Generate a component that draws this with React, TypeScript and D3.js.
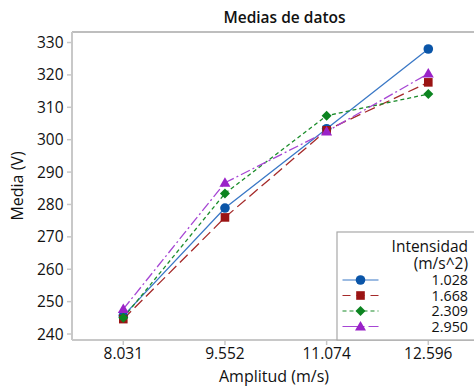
import React from "react";
import * as d3 from "d3";

const categories = ["8.031", "9.552", "11.074", "12.596"];
const seriesNames = ["1.028", "1.668", "2.309", "2.950"];
const s1028 = [245.6, 278.9, 303.4, 328.0];
const s1668 = [244.6, 276.0, 302.9, 317.7];
const s2309 = [245.0, 283.4, 307.4, 314.1];
const s2950 = [247.7, 286.7, 302.5, 320.4];
const yTicks = [240, 250, 260, 270, 280, 290, 300, 310, 320, 330];

const W = 474, H = 386;
const left = 72, right = 474, top = 32, bottom = 340;

const styles = [
  { line: "#3a78c6", fill: "#0a55a8", dash: "", shape: "circle" },
  { line: "#a52a2a", fill: "#9b1414", dash: "11,5", shape: "square" },
  { line: "#1a8c2a", fill: "#0c8420", dash: "4,3", shape: "diamond" },
  { line: "#a646d4", fill: "#9a22c8", dash: "10,3,2,3", shape: "triangle" },
];

function Marker({ x, y, shape, fill }: { x: number; y: number; shape: string; fill: string }) {
  if (shape === "circle") return <circle cx={x} cy={y} r={4.8} fill={fill} />;
  if (shape === "square") return <rect x={x - 4.3} y={y - 4.3} width={8.6} height={8.6} fill={fill} />;
  if (shape === "diamond")
    return <path d={`M${x},${y - 5}L${x + 5},${y}L${x},${y + 5}L${x - 5},${y}Z`} fill={fill} />;
  return <path d={`M${x},${y - 5.5}L${x + 5.5},${y + 4}L${x - 5.5},${y + 4}Z`} fill={fill} />;
}

export default function App() {
  const data = [s1028, s1668, s2309, s2950];
  const x = d3.scalePoint<string>().domain(categories).range([123.3, 428.3]);
  const y = d3.scaleLinear().domain([238.15, 333.25]).range([bottom, top]);
  const line = d3
    .line<number>()
    .x((_, i) => x(categories[i]) as number)
    .y((d) => y(d));
  const font = "'Open Sans', 'Noto Sans', sans-serif";
  const legendRows = [280, 295.5, 311, 326.5];
  return (
    <svg width={W} height={H} style={{ position: "absolute", left: 0, top: 0 }} fontFamily={font}>
      <rect width={W} height={H} fill="#fff" />
      <text x={284.5} y={17.5} dy="0.36em" textAnchor="middle" fontSize={15.5} fontWeight={600} fill="#111">
        Medias de datos
      </text>
      <line x1={left} x2={right} y1={top} y2={top} stroke="#a8a8a8" strokeWidth={1.5} />
      <line x1={left} x2={left} y1={top} y2={bottom} stroke="#c8c8c8" strokeWidth={2} />
      <line x1={left} x2={right} y1={bottom} y2={bottom} stroke="#c8c8c8" strokeWidth={2} />
      {yTicks.map((t) => (
        <g key={t}>
          <line x1={left - 5} x2={left} y1={y(t)} y2={y(t)} stroke="#c8c8c8" strokeWidth={1.5} />
          <text x={left - 8.5} y={y(t)} dy="0.36em" textAnchor="end" fontSize={15.5} fill="#111">
            {t}
          </text>
        </g>
      ))}
      {categories.map((c) => (
        <g key={c}>
          <line x1={x(c)} x2={x(c)} y1={bottom} y2={bottom + 5} stroke="#c8c8c8" strokeWidth={1.5} />
          <text x={x(c)} y={353} dy="0.36em" textAnchor="middle" fontSize={15.5} fill="#111">
            {c}
          </text>
        </g>
      ))}
      <text x={274} y={376} dy="0.36em" textAnchor="middle" fontSize={16} fill="#111">
        Amplitud (m/s)
      </text>
      <text
        transform={`translate(17.5,186) rotate(-90)`}
        dy="0.36em"
        textAnchor="middle"
        fontSize={16}
        fill="#111"
      >
        Media (V)
      </text>
      {data.map((s, i) => (
        <path
          key={i}
          d={line(s) || ""}
          fill="none"
          stroke={styles[i].line}
          strokeWidth={1.3}
          strokeDasharray={styles[i].dash}
        />
      ))}
      {data.map((s, i) =>
        s.map((v, j) => (
          <Marker key={`${i}-${j}`} x={x(categories[j]) as number} y={y(v)} shape={styles[i].shape} fill={styles[i].fill} />
        ))
      )}
      <rect x={337} y={232} width={140} height={bottom - 232} fill="#fff" stroke="#a8a8a8" strokeWidth={1.2} />
      <text x={468} y={246.5} dy="0.36em" textAnchor="end" fontSize={15.5} fontWeight={500} fill="#111">
        Intensidad
      </text>
      <text x={468} y={263} dy="0.36em" textAnchor="end" fontSize={15.5} fontWeight={500} fill="#111">
        (m/s^2)
      </text>
      {seriesNames.map((n, i) => (
        <g key={n}>
          <line
            x1={342.5}
            x2={378.5}
            y1={legendRows[i]}
            y2={legendRows[i]}
            stroke={styles[i].line}
            strokeWidth={1.2}
            strokeDasharray={i === 1 ? "8,6" : i === 3 ? "16,4,2,4" : styles[i].dash}
          />
          <Marker x={360.5} y={legendRows[i]} shape={styles[i].shape} fill={styles[i].fill} />
          <text x={468} y={legendRows[i]} dy="0.36em" textAnchor="end" fontSize={14.3} fill="#111">
            {n}
          </text>
        </g>
      ))}
    </svg>
  );
}
